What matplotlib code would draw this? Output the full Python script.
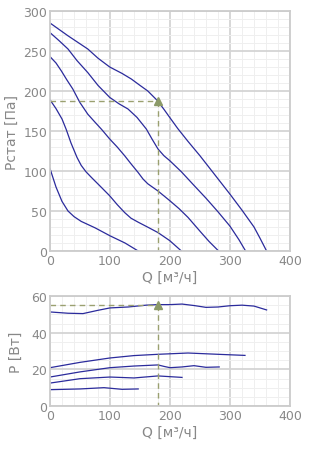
import numpy as np
import matplotlib
matplotlib.use("Agg")
import matplotlib.pyplot as plt
from matplotlib.ticker import MultipleLocator

# --- static pressure curves (Q [m3/h], P [Pa]) ---
q1 = [0, 30, 63, 80, 99.5, 120, 135.5, 150, 163, 179, 190, 199.5, 213, 230,
      250, 275, 300, 320, 340, 350, 361]
p1 = [285, 269, 252.5, 241, 230, 222, 215, 207, 200, 188, 177, 167, 153, 137,
      119, 95, 71, 51, 30, 16, 0]

q2 = [0, 15, 30, 45, 63, 80, 99.5, 115, 130, 145, 160.5, 170, 180, 190, 199.5,
      219, 240, 260, 280, 300, 315, 326]
p2 = [273, 263, 252.5, 238, 223, 207, 192, 184, 177.5, 167, 152.5, 140, 127.5,
      119, 113, 99, 82, 66, 49, 31, 14, 0]

q3 = [0, 10, 19, 28, 38, 49.5, 63, 75, 86, 99.5, 112, 124.5, 135, 147, 155,
      163, 180, 199.5, 215, 230, 252, 265, 281]
p3 = [243, 235, 225, 214, 202.5, 186, 171, 161, 152, 140, 130, 119, 109, 98,
      90, 84, 75, 63, 53, 42, 23, 12, 0]

q4 = [0, 10, 20, 27, 35, 45, 52, 60, 69, 85, 99.5, 112, 124.5, 135, 147, 165,
      180, 199.5, 219]
p4 = [189, 178, 165, 152, 135, 117, 107, 99, 92, 80, 69, 58, 48, 41, 36, 29,
      23, 13, 0]

q5 = [0, 10, 20, 30, 40, 52, 75, 100, 125, 147]
p5 = [103, 80, 62, 50, 43, 37, 29, 19, 10, 0]

# --- power curves (Q [m3/h], P [W]) ---
w1q = [0, 30, 55, 80, 100, 130, 160, 180, 200, 220, 240, 260, 280, 300, 320,
       340, 361]
w1 = [51.3, 50.6, 50.4, 52.2, 53.5, 54.0, 55.0, 55.3, 55.3, 55.6, 54.8, 53.8,
      54.0, 54.7, 55.0, 54.5, 52.4]

w2q = [0, 50, 100, 140, 180, 230, 280, 325]
w2 = [20.9, 23.8, 26.2, 27.5, 28.2, 28.9, 28.2, 27.6]

w3q = [0, 50, 100, 140, 180, 190, 200, 220, 240, 260, 282]
w3 = [15.8, 18.6, 20.9, 21.8, 22.4, 21.6, 20.9, 21.3, 22.0, 21.1, 21.3]

w4q = [0, 50, 100, 140, 180, 220]
w4 = [12.5, 14.9, 15.8, 15.3, 16.4, 15.6]

w5q = [0, 50, 90, 120, 147]
w5 = [8.9, 9.3, 10.0, 9.1, 9.3]

# operating point
op_q, op_p, op_w = 180, 187, 55

line_col = "#2b2b9c"
op_col = "#9aa070"
grid_major = "#d4d4d4"
grid_minor = "#efefef"
tick_col = "#888888"


def style_axes(ax, xmax, ymax, xmaj, xmin, ymaj, ymin):
    ax.set_xlim(0, xmax)
    ax.set_ylim(0, ymax)
    ax.xaxis.set_major_locator(MultipleLocator(xmaj))
    ax.xaxis.set_minor_locator(MultipleLocator(xmin))
    ax.yaxis.set_major_locator(MultipleLocator(ymaj))
    ax.yaxis.set_minor_locator(MultipleLocator(ymin))
    ax.grid(which="major", color=grid_major, lw=1.3)
    ax.grid(which="minor", color=grid_minor, lw=0.7)
    ax.set_axisbelow(True)
    for s in ax.spines.values():
        s.set_color("#cccccc")
        s.set_linewidth(1.3)
    ax.tick_params(which="both", length=0, colors=tick_col, labelsize=9, pad=2)


fig = plt.figure(figsize=(3.28, 4.56), dpi=100)

ax1 = fig.add_axes([50 / 328, 1 - 252 / 456, 240 / 328, 240 / 456])
style_axes(ax1, 400, 300, 100, 20, 50, 10)
for q, p in [(q1, p1), (q2, p2), (q3, p3), (q4, p4), (q5, p5)]:
    ax1.plot(q, p, color=line_col, lw=0.9)
ax1.plot([0, op_q], [op_p, op_p], ls=(0, (4, 3)), color=op_col, lw=1)
ax1.plot([op_q, op_q], [op_p, 0], ls=(0, (4, 3)), color=op_col, lw=1)
ax1.plot([op_q], [op_p], marker="^", color="#8c9a68", ms=6, zorder=5)
ax1.set_xlabel("Q [м³/ч]", color=tick_col, fontsize=10, labelpad=2)
ax1.set_ylabel("Pстат [Па]", color=tick_col, fontsize=10, labelpad=3)

ax2 = fig.add_axes([50 / 328, 1 - 407 / 456, 240 / 328, 110 / 456])
style_axes(ax2, 400, 60, 100, 20, 20, 5)
for q, w in [(w1q, w1), (w2q, w2), (w3q, w3), (w4q, w4), (w5q, w5)]:
    ax2.plot(q, w, color=line_col, lw=0.9)
ax2.plot([0, op_q], [op_w, op_w], ls=(0, (4, 3)), color=op_col, lw=1)
ax2.plot([op_q, op_q], [op_w, 0], ls=(0, (4, 3)), color=op_col, lw=1)
ax2.plot([op_q], [op_w], marker="^", color="#8c9a68", ms=6, zorder=5)
ax2.set_xlabel("Q [м³/ч]", color=tick_col, fontsize=10, labelpad=2)
ax2.set_ylabel("P [Вт]", color=tick_col, fontsize=10, labelpad=6)

fig.savefig("out.png", dpi=100)
